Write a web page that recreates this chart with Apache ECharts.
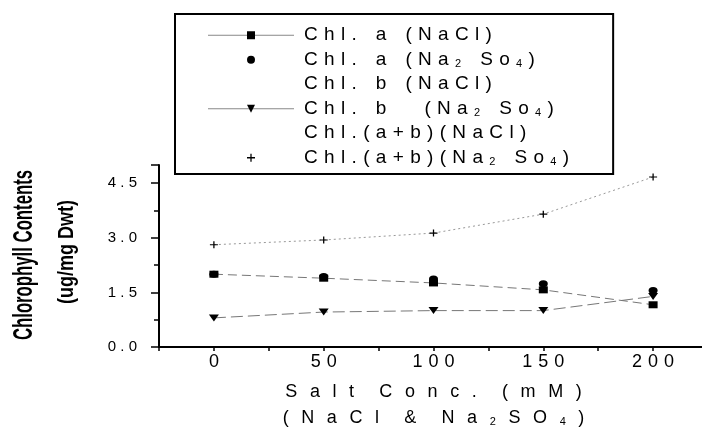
<!DOCTYPE html>
<html>
<head>
<meta charset="utf-8">
<script src="https://cdn.jsdelivr.net/npm/echarts@6/dist/echarts.min.js"></script>
<style>
  html, body { margin: 0; padding: 0; background: #fff; }
  #chart { width: 702px; height: 430px; }
</style>
</head>
<body>
<div id="chart"></div>
<script>
// salt concentration (mM)
var saltConc = [0, 50, 100, 150, 200];
// chlorophyll contents
var chlaNaCl = [2.00, 1.89, 1.76, 1.57, 1.16];
var chlaNa2SO4 = [2.00, 1.94, 1.87, 1.74, 1.55];
var chlbNaCl = [];
var chlbNa2SO4 = [0.80, 0.96, 1.00, 1.00, 1.39];
var chlabNaCl = [];
var chlabNa2SO4 = [2.81, 2.94, 3.13, 3.65, 4.67];

var seriesNames = [
  "Chl. a (NaCl)", "Chl. a (Na2So4)", "Chl. b (NaCl)",
  "Chl. b (Na2So4)", "Chl.(a+b)(NaCl)", "Chl.(a+b)(Na2So4)"
];
// "_" marks the next digit as a subscript
var legendLabels = [
  "Chl. a (NaCl)",
  "Chl. a (Na_2 So_4)",
  "Chl. b (NaCl)",
  "Chl. b  (Na_2 So_4)",
  "Chl.(a+b)(NaCl)",
  "Chl.(a+b)(Na_2 So_4)"
];
var xTitle = ["Salt Conc. (mM)", "(NaCl & Na_2SO_4)"];
var yTitle = ["Chlorophyll Contents", "(ug/mg Dwt)"];

var font = "Arial";

function pairs(values) {
  return values.map(function (v, i) { return [saltConc[i], v]; });
}
function spaced(str) {
  return str.split("").join(" ");
}
// widely tracked text, plain parts in {t|..}, subscripts in {s|..}
function track(str, gap, wordGap) {
  var out = "{t|";
  var spaces = 0;
  var first = true;
  for (var i = 0; i < str.length; i++) {
    var ch = str[i];
    if (ch === " ") { spaces++; continue; }
    if (!first) out += spaces ? new Array(spaces + 1).join(wordGap) : gap;
    first = false;
    spaces = 0;
    if (ch === "_") {
      out += "}{s|" + str[++i] + "}{t|";
    } else {
      out += ch;
    }
  }
  return out + "}";
}

var legendMain = { fontFamily: font, fontSize: 19, color: "#000" };
var mainStyle = { fontFamily: font, fontSize: 18, color: "#000" };
var subStyle = { fontFamily: font, fontSize: 11, color: "#000", padding: [8, 0, 0, 0] };

var myChart = echarts.init(document.getElementById("chart"));
var option = {
  backgroundColor: "#fff",
  animation: false,
  textStyle: { fontFamily: font, color: "#000" },
  grid: { left: 159, top: 165, right: -6, bottom: 83, containLabel: false, outerBoundsMode: "none" },
  legend: {
    orient: "vertical",
    left: 175,
    top: 14,
    padding: [11, 44, 6, 32],
    borderColor: "#000",
    borderWidth: 2,
    itemWidth: 86,
    itemHeight: 10,
    itemGap: 4,
    formatter: function (name) {
      return track(legendLabels[seriesNames.indexOf(name)], "\u2004", "\u2004\u2004\u2004");
    },
    textStyle: {
      fontFamily: font,
      fontSize: 19,
      color: "#000",
      lineHeight: 20.5,
      padding: [0, 0, 0, 5],
      rich: { t: legendMain, s: subStyle }
    },
    data: [
      { name: seriesNames[0], lineStyle: { type: "solid", color: "#888", width: 1 } },
      { name: seriesNames[1], lineStyle: { opacity: 0 } },
      { name: seriesNames[2], itemStyle: { opacity: 0 }, lineStyle: { opacity: 0 } },
      { name: seriesNames[3], lineStyle: { type: "solid", color: "#888", width: 1 } },
      { name: seriesNames[4], itemStyle: { opacity: 0 }, lineStyle: { opacity: 0 } },
      { name: seriesNames[5], lineStyle: { opacity: 0 } }
    ]
  },
  xAxis: {
    type: "value",
    min: -25,
    max: 225,
    interval: 25,
    splitLine: { show: false },
    axisLine: { onZero: false, lineStyle: { color: "#000", width: 2 } },
    axisTick: { length: 4, lineStyle: { color: "#000", width: 1.5 } },
    axisLabel: {
      fontSize: 18,
      color: "#000",
      margin: 6,
      formatter: function (v) {
        return v >= 0 && v <= 200 && v % 50 === 0 ? String(v).split("").join("\u2004") : "";
      }
    },
    name: xTitle.map(function (s) {
      return track(s, "\u2002\u2009", "\u2002\u2009\u2002\u2009");
    }).join("\n"),
    nameLocation: "middle",
    nameGap: 32,
    nameTextStyle: {
      fontSize: 18,
      color: "#000",
      lineHeight: 26,
      rich: { t: mainStyle, s: subStyle }
    }
  },
  yAxis: {
    type: "value",
    min: 0,
    max: 5,
    interval: 1.5,
    splitLine: { show: false },
    axisLine: { onZero: false, lineStyle: { color: "#000", width: 2 } },
    axisTick: { length: 8, lineStyle: { color: "#000", width: 1.5 } },
    minorTick: { show: true, splitNumber: 2, length: 5, lineStyle: { color: "#000", width: 1.5 } },
    minorSplitLine: { show: false },
    axisLabel: {
      fontSize: 15,
      color: "#000",
      margin: 22,
      showMaxLabel: false,
      formatter: function (v) {
        return Math.abs(v / 1.5 - Math.round(v / 1.5)) < 1e-6 ? spaced(v.toFixed(1)) : "";
      }
    }
  },
  graphic: [
    {
      type: "text",
      x: 25,
      y: 255,
      rotation: Math.PI / 2,
      scaleX: 0.62,
      style: {
        text: yTitle[0],
        font: "bold 27px " + font,
        fill: "#000",
        textAlign: "center",
        textVerticalAlign: "middle"
      }
    },
    {
      type: "text",
      x: 67,
      y: 252,
      rotation: Math.PI / 2,
      scaleX: 0.82,
      style: {
        text: yTitle[1],
        font: "bold 22px " + font,
        fill: "#000",
        textAlign: "center",
        textVerticalAlign: "middle"
      }
    }
  ],
  series: [
    {
      name: seriesNames[1],
      type: "line",
      data: pairs(chlaNa2SO4),
      symbol: "circle",
      symbolSize: [9, 7],
      itemStyle: { color: "#000" },
      lineStyle: { width: 0, color: "#888" },
      z: 2
    },
    {
      name: seriesNames[0],
      type: "line",
      data: pairs(chlaNaCl),
      symbol: "rect",
      symbolSize: [9, 7],
      itemStyle: { color: "#000" },
      lineStyle: { width: 1, color: "#777", type: [9, 5] },
      z: 3
    },
    {
      name: seriesNames[2],
      type: "line",
      data: pairs(chlbNaCl),
      symbol: "none",
      lineStyle: { width: 1, color: "#777" }
    },
    {
      name: seriesNames[3],
      type: "line",
      data: pairs(chlbNa2SO4),
      symbol: "path://M0,0L10,0L5,7Z",
      symbolSize: [10, 7],
      itemStyle: { color: "#000" },
      lineStyle: { width: 1, color: "#777", type: [12, 5] },
      z: 3
    },
    {
      name: seriesNames[4],
      type: "line",
      data: pairs(chlabNaCl),
      symbol: "none",
      lineStyle: { width: 1, color: "#777" }
    },
    {
      name: seriesNames[5],
      type: "line",
      data: pairs(chlabNa2SO4),
      symbol: "path://M0,4.2H10V5.8H0Z M4.2,0H5.8V10H4.2Z",
      symbolSize: [8, 7],
      itemStyle: { color: "#000" },
      lineStyle: { width: 1, color: "#999", type: [2, 3] },
      z: 3
    }
  ]
};
myChart.setOption(option);
</script>
</body>
</html>
